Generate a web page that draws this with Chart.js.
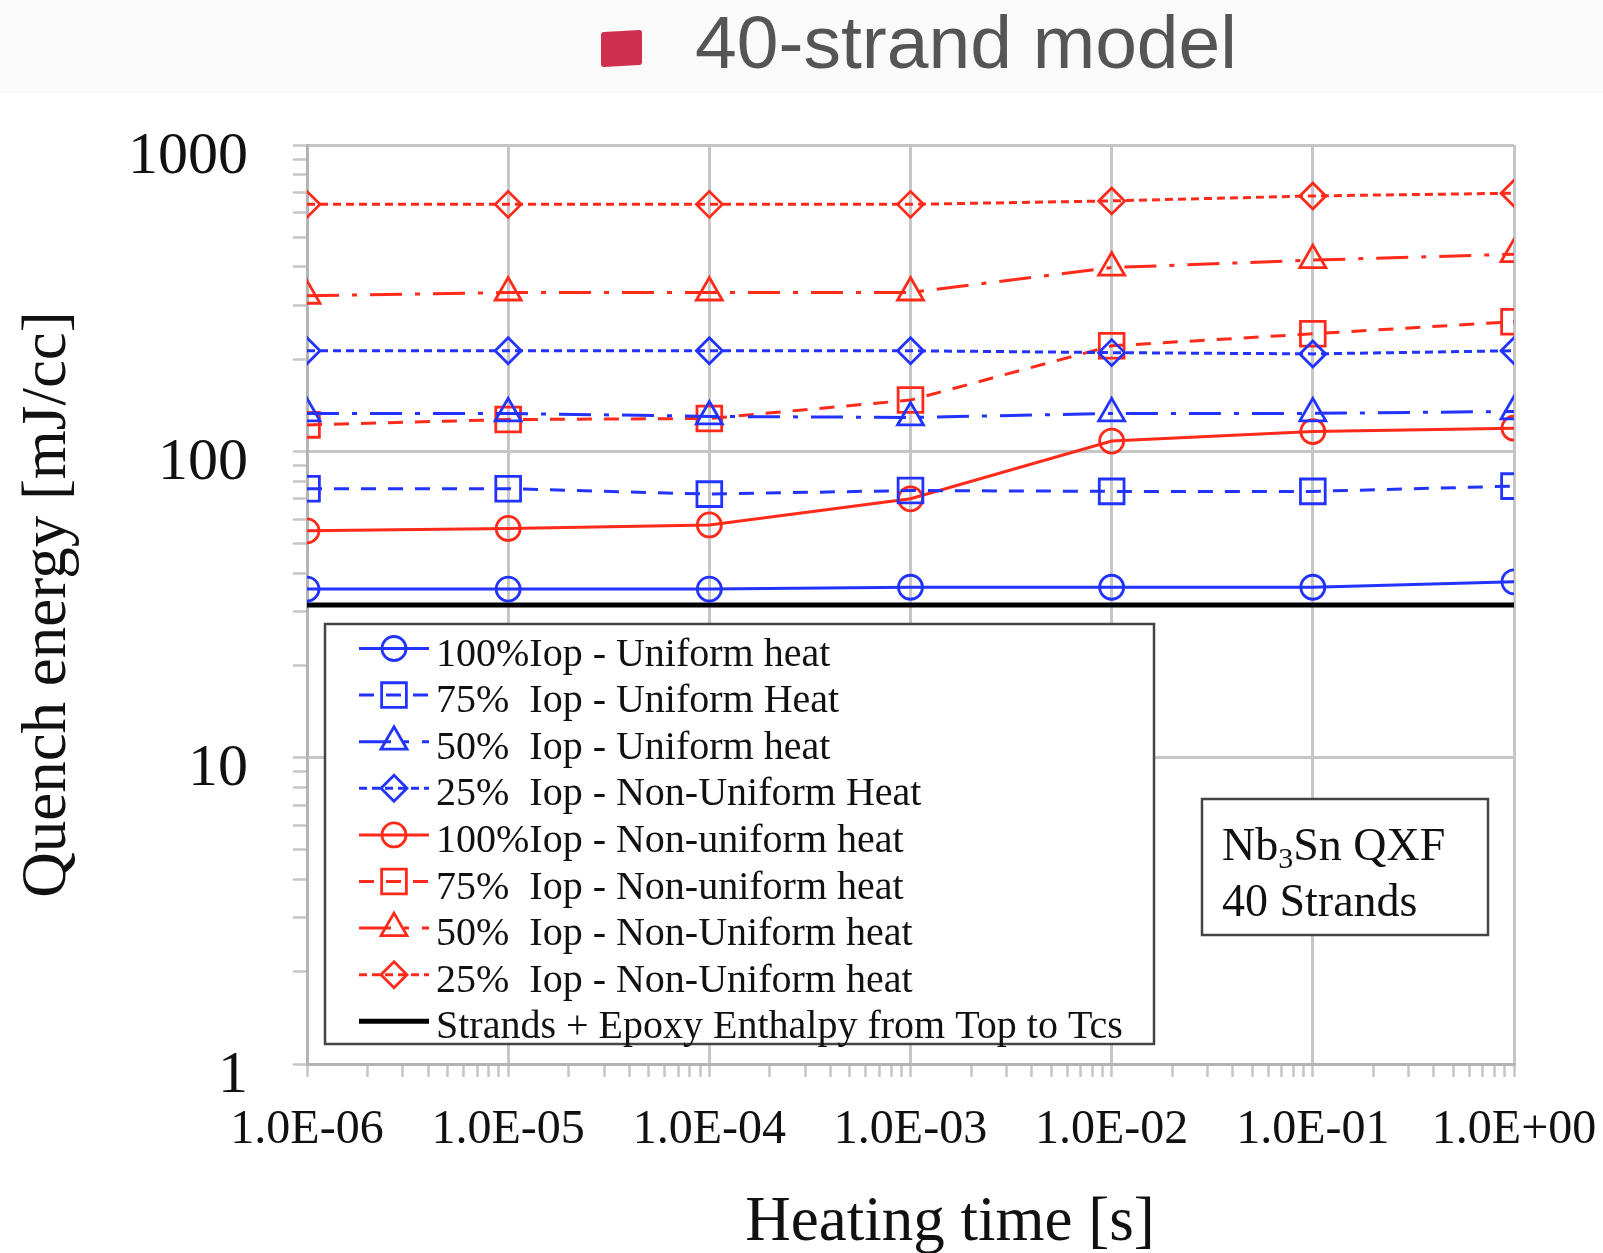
<!DOCTYPE html>
<html>
<head>
<meta charset="utf-8">
<title>40-strand model</title>
<script src="https://cdn.jsdelivr.net/npm/chart.js@4.4.1/dist/chart.umd.min.js"></script>
<style>
  html, body { margin: 0; padding: 0; background: #fff; }
  #wrap { position: relative; width: 1603px; height: 1253px; overflow: hidden; }
  #band { position: absolute; left: 0; top: 0; width: 1603px; height: 93px; background: #fafafa; }
  #icon { position: absolute; left: 601px; top: 31px; width: 41px; height: 35px; background: #d03050; border-radius: 3px; transform: skewY(-3deg); }
  #title { position: absolute; left: 695px; top: 5px; font: 75px "Liberation Sans", Arial, sans-serif; line-height: 1; color: #555; white-space: nowrap; }
  #chart { position: absolute; left: 0; top: 0; }
</style>
</head>
<body>
<div id="wrap">
  <div id="band"></div>
  <div id="icon"></div>
  <div id="title">40-strand model</div>
  <canvas id="chart" width="1603" height="1253"></canvas>
</div>
<script>
// Heating times [s] and quench energies [mJ/cc]
const heatingTime = [1e-6, 1e-5, 1e-4, 1e-3, 1e-2, 1e-1, 1];
const uniform100 = [35.5, 35.5, 35.5, 36, 36, 36, 37.5];
const uniform75 = [75.5, 75.5, 72.5, 74.5, 74, 74, 77];
const uniform50 = [133, 133, 130, 129, 133, 133, 135];
const nonUniform25Blue = [213, 213, 213, 213, 210, 208, 213];
const nonUniform100 = [55, 56, 57.5, 70, 108, 116, 119];
const nonUniform75 = [122, 127, 128, 147, 221, 242, 265];
const nonUniform50 = [322, 330, 330, 330, 398, 421, 440];
const nonUniform25 = [640, 640, 640, 640, 657, 682, 696];
const enthalpy = [31.5, 31.5, 31.5, 31.5, 31.5, 31.5, 31.5];

const BLUE = '#2233ff';
const RED = '#ff2a1a';
const GRID = '#c6c6c6';
const INK = '#111';
const SERIF = '"Liberation Serif", "Times New Roman", serif';

const SOLID = [];
const DASH = [15, 12];
const DASH_DOT = [32, 13, 5, 13];
const SHORT_DASH = [8, 5];

function series(label, values, color, dash, style, radius) {
  return {
    label,
    data: heatingTime.map((t, i) => ({ x: t, y: values[i] })),
    borderColor: color,
    borderWidth: 3,
    borderDash: dash,
    pointStyle: style,
    pointRadius: radius,
    pointBorderWidth: 2.8,
    pointBorderColor: color,
    pointBackgroundColor: 'rgba(0,0,0,0)',
    tension: 0
  };
}

const datasets = [
  series('100%Iop - Uniform heat', uniform100, BLUE, SOLID, 'circle', 12),
  series('75%  Iop - Uniform Heat', uniform75, BLUE, DASH, 'rect', 17.5),
  series('50%  Iop - Uniform heat', uniform50, BLUE, DASH_DOT, 'triangle', 15),
  series('25%  Iop - Non-Uniform Heat', nonUniform25Blue, BLUE, SHORT_DASH, 'rectRot', 13),
  series('100%Iop - Non-uniform heat', nonUniform100, RED, SOLID, 'circle', 12),
  series('75%  Iop - Non-uniform heat', nonUniform75, RED, DASH, 'rect', 17.5),
  series('50%  Iop - Non-Uniform heat', nonUniform50, RED, DASH_DOT, 'triangle', 15),
  series('25%  Iop - Non-Uniform heat', nonUniform25, RED, SHORT_DASH, 'rectRot', 13),
  {
    label: 'Strands + Epoxy Enthalpy from Top to Tcs',
    data: heatingTime.map((t, i) => ({ x: t, y: enthalpy[i] })),
    borderColor: '#000',
    borderWidth: 5,
    pointRadius: 0
  }
];

const isDecade = v => Math.abs(Math.log10(v) - Math.round(Math.log10(v))) < 1e-9;

// 1,2,...,9 x 10^e for each decade plus the closing power of ten
function logTicks(fromExp, toExp) {
  const ticks = [];
  for (let e = fromExp; e < toExp; e++) {
    for (let m = 1; m <= 9; m++) ticks.push({ value: m * Math.pow(10, e) });
  }
  ticks.push({ value: Math.pow(10, toExp) });
  return ticks;
}

const gridColor = ctx => (ctx.tick && isDecade(ctx.tick.value)) ? GRID : 'rgba(0,0,0,0)';

// Legend box inside the plot, the Nb3Sn text box and the x axis title
const boxes = {
  id: 'boxes',
  afterDraw(chart) {
    const ctx = chart.ctx;
    const helpers = Chart.helpers;
    ctx.save();

    // legend frame
    ctx.fillStyle = '#fff';
    ctx.fillRect(325, 624, 829, 420);
    ctx.strokeStyle = '#444';
    ctx.lineWidth = 2.5;
    ctx.strokeRect(325, 624, 829, 420);

    chart.data.datasets.forEach((ds, i) => {
      const y = 648.5 + i * 46.6;
      ctx.save();
      ctx.strokeStyle = ds.borderColor;
      ctx.lineWidth = ds.borderWidth;
      ctx.setLineDash(ds.borderDash || []);
      ctx.beginPath();
      ctx.moveTo(359, y);
      ctx.lineTo(429, y);
      ctx.stroke();
      ctx.setLineDash([]);
      if (ds.pointRadius > 0) {
        ctx.fillStyle = 'rgba(0,0,0,0)';
        ctx.lineWidth = ds.pointBorderWidth;
        helpers.drawPoint(ctx, {
          pointStyle: ds.pointStyle,
          radius: ds.pointRadius,
          rotation: 0,
          borderWidth: ds.pointBorderWidth
        }, 394, y);
      }
      ctx.restore();

      ctx.fillStyle = INK;
      ctx.font = '40px ' + SERIF;
      ctx.textBaseline = 'alphabetic';
      ctx.fillText(ds.label, 436, y + 17);
    });

    // Nb3Sn QXF box
    ctx.fillStyle = '#fff';
    ctx.fillRect(1202, 799, 286, 136);
    ctx.strokeStyle = '#444';
    ctx.lineWidth = 2.5;
    ctx.strokeRect(1202, 799, 286, 136);

    ctx.fillStyle = INK;
    ctx.textBaseline = 'alphabetic';
    let x = 1222;
    ctx.font = '46px ' + SERIF;
    ctx.fillText('Nb', x, 860);
    x += ctx.measureText('Nb').width;
    ctx.font = '30px ' + SERIF;
    ctx.fillText('3', x, 868);
    x += ctx.measureText('3').width;
    ctx.font = '46px ' + SERIF;
    ctx.fillText('Sn QXF', x, 860);
    ctx.fillText('40 Strands', 1222, 916);

    // x axis title
    ctx.font = '63px ' + SERIF;
    ctx.textAlign = 'center';
    ctx.fillText('Heating time [s]', 950, 1240);

    ctx.restore();
  }
};

new Chart(document.getElementById('chart'), {
  type: 'line',
  data: { datasets },
  plugins: [boxes],
  options: {
    responsive: false,
    animation: false,
    layout: { padding: { top: 145, right: 89, left: 0, bottom: 0 } },
    plugins: { legend: { display: false }, tooltip: { enabled: false } },
    scales: {
      x: {
        type: 'logarithmic',
        min: 1e-6,
        max: 1,
        afterBuildTicks: scale => { scale.ticks = logTicks(-6, 0); },
        afterFit: scale => {
          scale.height = 189;
          scale.paddingLeft = 0;
          scale.paddingRight = 0;
        },
        border: { color: '#b4b4b4', width: 3 },
        grid: { color: gridColor, lineWidth: 3, tickColor: GRID, tickWidth: 2.5, tickLength: 13 },
        ticks: {
          autoSkip: false,
          maxRotation: 0,
          padding: 25,
          color: INK,
          font: { family: SERIF, size: 48 },
          callback: v => {
            if (!isDecade(v)) return '';
            const e = Math.round(Math.log10(v));
            return '1.0E' + (e < 0 ? '-' : '+') + String(Math.abs(e)).padStart(2, '0');
          }
        }
      },
      y: {
        type: 'logarithmic',
        min: 1,
        max: 1000,
        afterBuildTicks: scale => { scale.ticks = logTicks(0, 3); },
        afterFit: scale => { scale.width = 307; },
        border: { color: '#b4b4b4', width: 3 },
        grid: { color: gridColor, lineWidth: 3, tickColor: GRID, tickWidth: 2.5, tickLength: 14 },
        ticks: {
          autoSkip: false,
          padding: 45,
          labelOffset: 12,
          color: INK,
          font: { family: SERIF, size: 60 },
          callback: v => isDecade(v) ? String(Math.round(v)) : ''
        },
        title: {
          display: true,
          text: 'Quench energy [mJ/cc]',
          color: INK,
          font: { family: SERIF, size: 63, lineHeight: 1 },
          padding: { top: 17, bottom: 0 }
        }
      }
    }
  }
});
</script>
</body>
</html>
